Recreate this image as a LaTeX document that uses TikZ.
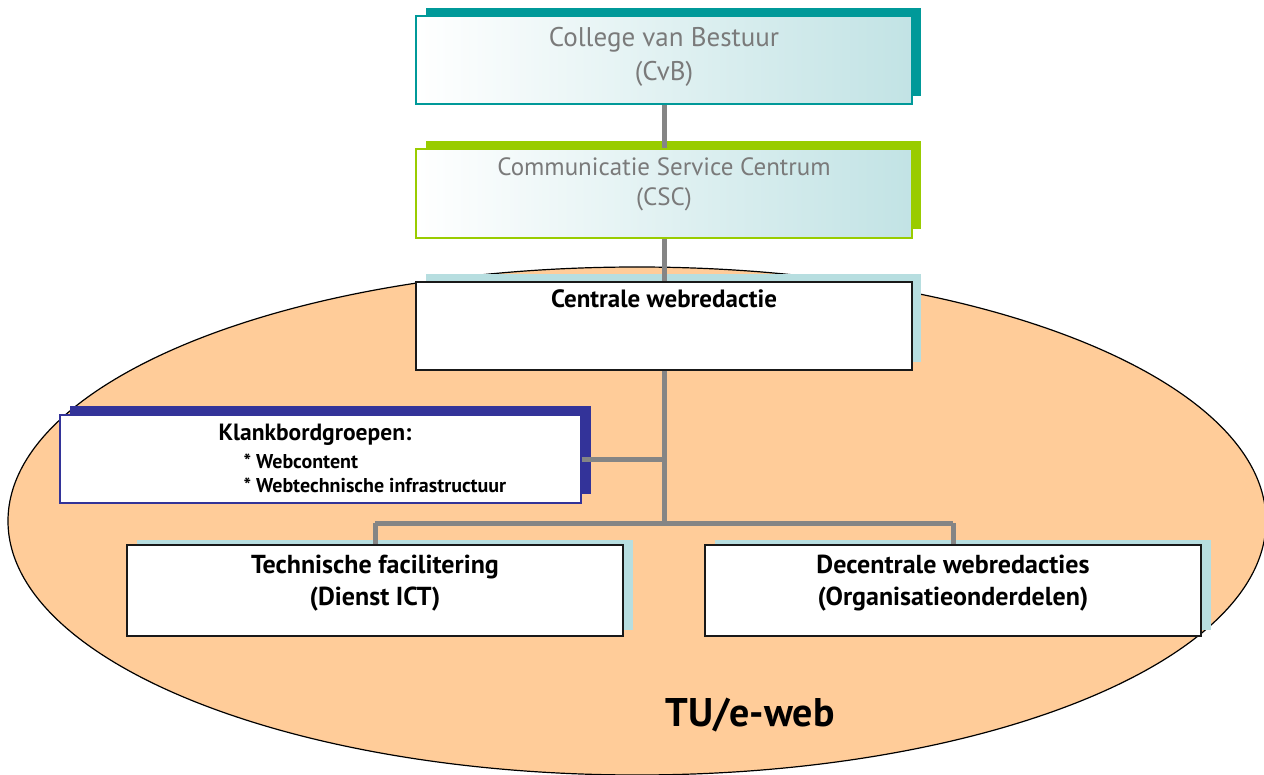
\documentclass[tikz,border=0pt]{standalone}
\usepackage{fontspec}
\setmainfont{PT Sans}
\definecolor{teal1}{HTML}{009999}
\definecolor{lime1}{HTML}{99CC00}
\definecolor{lblue}{HTML}{B7DEE0}
\definecolor{navy1}{HTML}{333399}
\definecolor{peach}{HTML}{FFCC99}
\definecolor{gtext}{HTML}{7A7A7A}
\definecolor{conn}{HTML}{858585}
\tikzset{
  box/.style={draw, line width=1.2pt, fill=white, minimum width=496pt, minimum height=88pt, inner sep=0pt},
  gradbox/.style={box, left color=white, right color=lblue!85},
  graytext/.style={text=gtext, align=center, anchor=north},
  blacktext/.style={align=center, anchor=north, font=\bfseries\fontsize{26}{32}\selectfont},
  link/.style={draw=conn, line width=5pt},
}
\begin{document}
\begin{tikzpicture}[x=1pt,y=-1pt]
\useasboundingbox (0,0) rectangle (1264,775);
% ellipse
\fill[peach] (637,521) ellipse [x radius=629, y radius=254];
\draw[line width=1.2pt] (637,521) ellipse [x radius=629, y radius=254];
% shadows
\fill[teal1] (426,8) rectangle (921,96);
\fill[lime1] (426,141) rectangle (921,229);
\fill[lblue] (426,274) rectangle (921,362);
\fill[navy1] (70,406) rectangle (591,494);
\fill[lblue] (137,540) rectangle (633,630);
\fill[lblue] (715,540) rectangle (1211,630);
% junction points
\coordinate (j1) at (664,459);
\coordinate (j2) at (664,523);
\coordinate (jl) at (375,523);
\coordinate (jr) at (953,523);
% boxes
\node[gradbox, draw=teal1] (cvb) at (664,60) {};
\node[graytext, font=\fontsize{27}{34}\selectfont] (cvbt) at (664,24) {College van Bestuur\\(CvB)};
\node[gradbox, draw=lime1, minimum height=89pt] (csc) at (664,193.5) {};
\node[graytext, font=\fontsize{25}{30}\selectfont] (csct) at (664,154) {Communicatie Service Centrum\\(CSC)};
\node[box, draw=black!90] (cw) at (664,326) {};
\node[blacktext, font=\bfseries\fontsize{25}{30}\selectfont] (cwt) at (664,286) {Centrale webredactie};
\node[box, draw=navy1, minimum width=521pt] (kb) at (320.5,459) {};
\node[font=\bfseries\fontsize{23.5}{28}\selectfont] (kbt) at (315,435) {Klankbordgroepen:};
\node[font=\bfseries\fontsize{20}{24}\selectfont, align=left, anchor=west] (kbl) at (240,473) {* Webcontent\\* Webtechnische infrastructuur};
\node[box, draw=black!90, minimum height=91pt] (tf) at (375,590.5) {};
\node[blacktext] (tft) at (375,551) {Technische facilitering\\(Dienst ICT)};
\node[box, draw=black!90, minimum height=91pt] (dw) at (953,590.5) {};
\node[blacktext] (dwt) at (953,551) {Decentrale webredacties\\(Organisatieonderdelen)};
% connectors
\draw[link] (cvb.south) -- (csc.north);
\draw[link] (csc.south) -- (cw.north);
\draw[link] (cw.south) -- (j2);
\draw[link] (kb.east |- j1) -- (j1);
\draw[link] (jl) -- (jr);
\draw[link] (jl) -- (tf.north);
\draw[link] (jr) -- (dw.north);
\node[font=\bfseries\fontsize{40}{48}\selectfont] (tue) at (750,715) {TU/e-web};
\end{tikzpicture}
\end{document}
